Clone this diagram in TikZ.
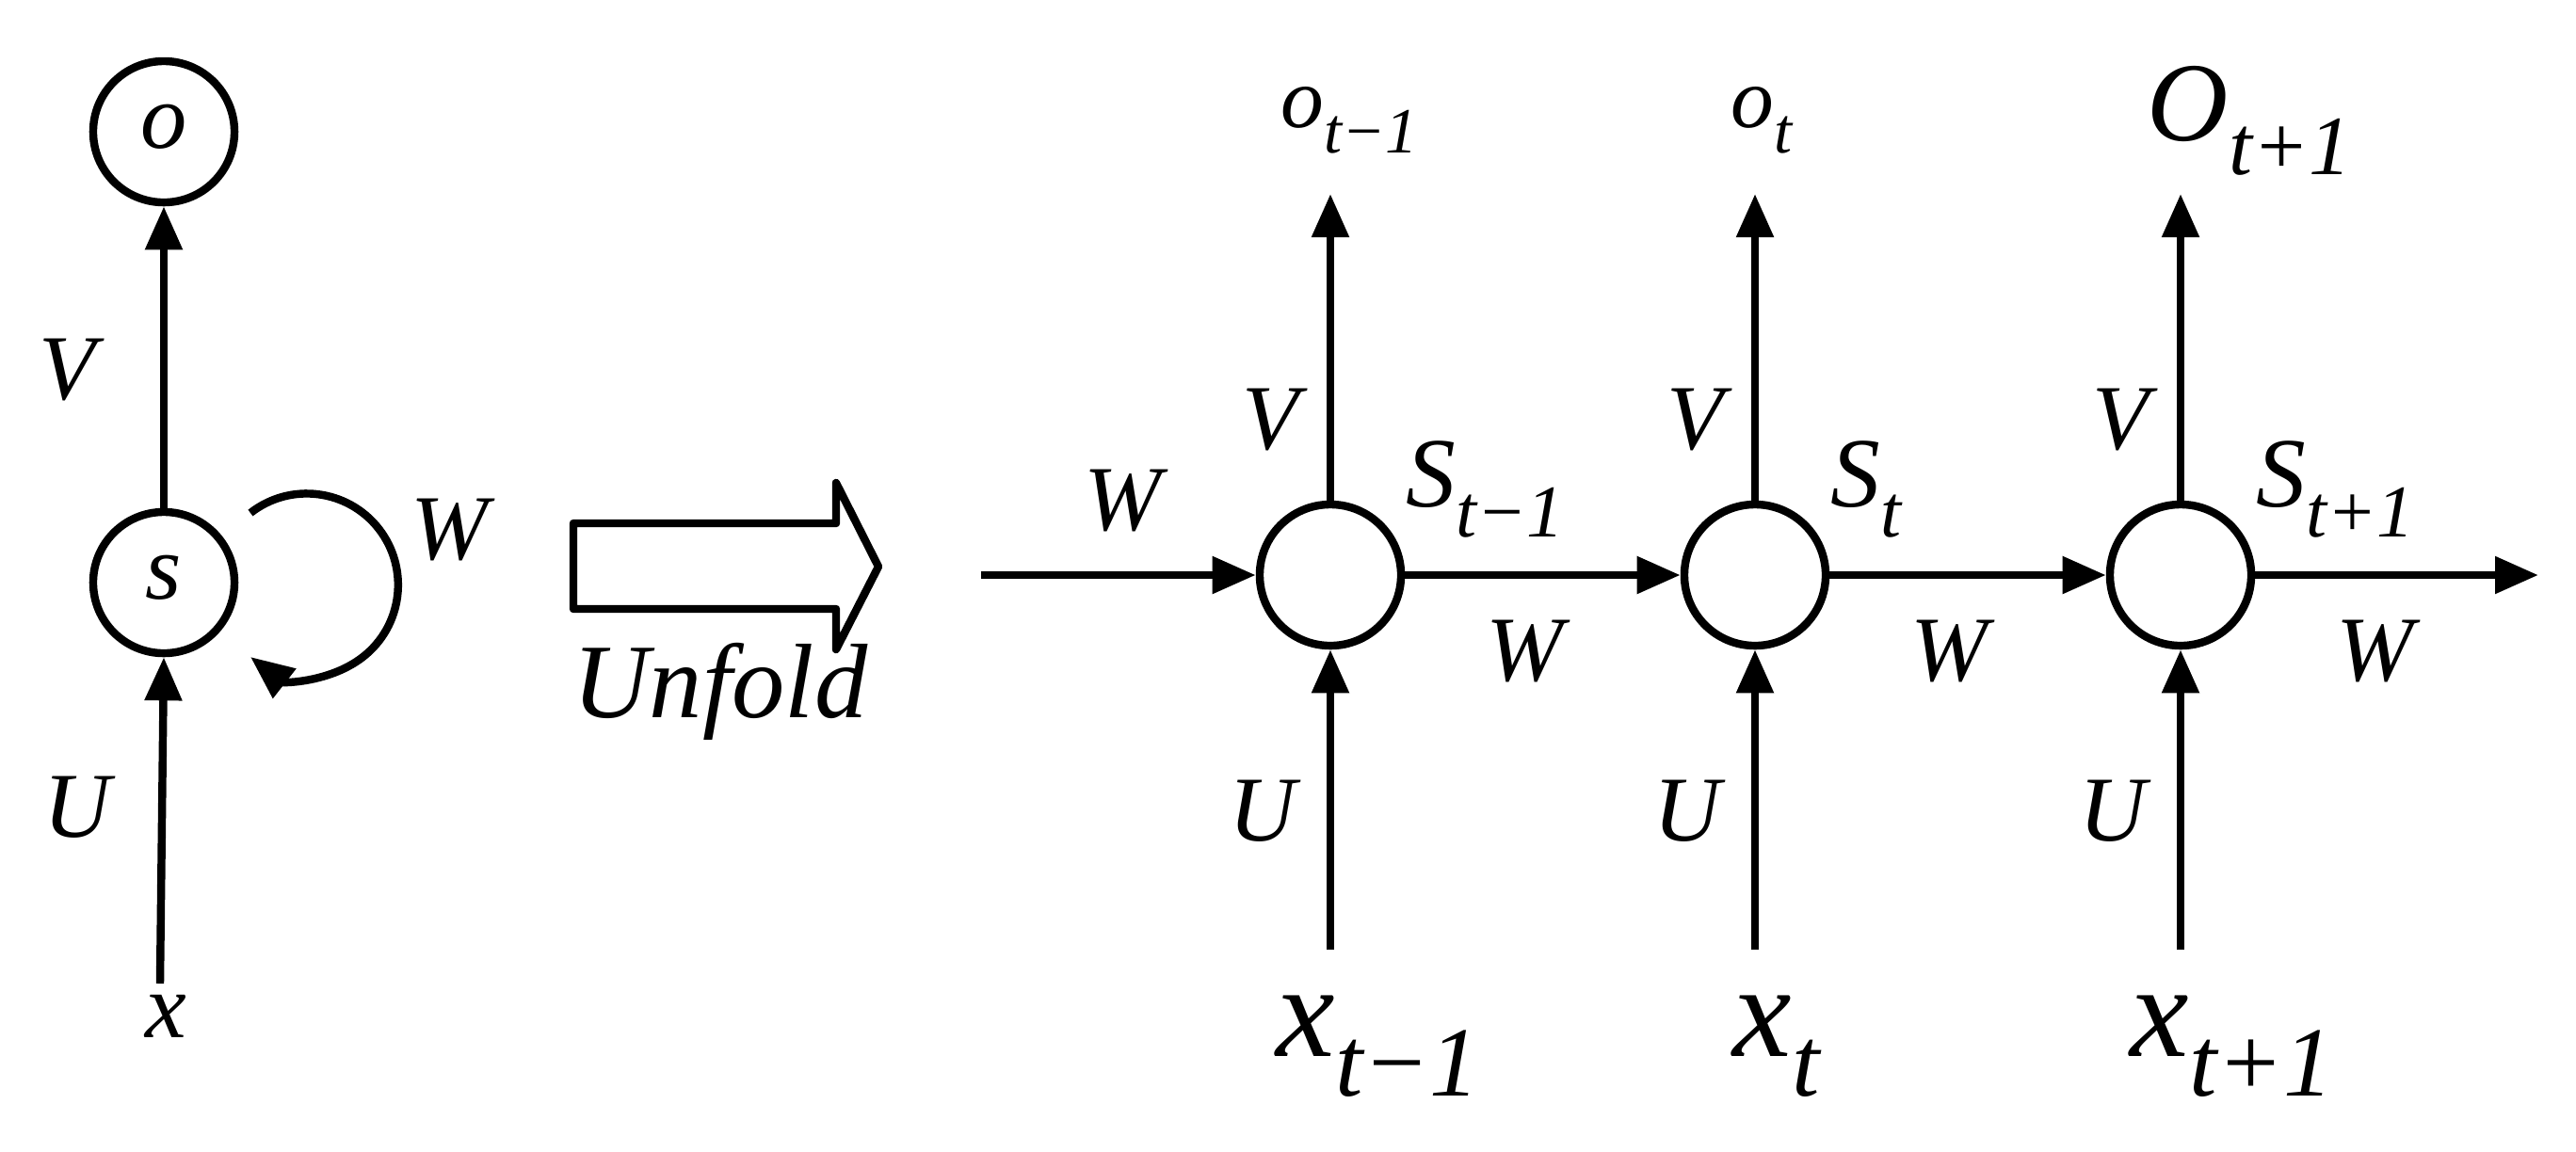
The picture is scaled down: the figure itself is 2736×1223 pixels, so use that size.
\documentclass[tikz,border=0pt]{standalone}
\usepackage{fontspec}
\setmainfont{Liberation Serif}[ItalicFont={Liberation Serif Italic}]
\usetikzlibrary{arrows.meta}
\newcommand{\sublab}[3]{{\fontsize{#3}{#3}\selectfont\itshape #1\raisebox{-0.3em}{\fontsize{0.75\dimexpr#3}{#3}\selectfont #2}}}
\begin{document}
\begin{tikzpicture}[x=0.01cm,y=-0.01cm,
  nd/.style={circle,draw,line width=2.4pt,minimum size=1.5cm,inner sep=0pt},
  con/.style={line width=2.4pt,-{Triangle[length=0.46cm,width=0.38cm]}},
  lb/.style={font=\fontsize{28}{28}\selectfont\itshape,inner sep=0pt}]
\useasboundingbox (0,0) rectangle (2736,1223);
% left folded
\node[nd] (o) at (174,140) {};
\node[lb] at (174,135) {o};
\node[nd] (s) at (174,619) {};
\node[lb] at (174,614) {s};
\coordinate (x0) at (170,1045);
\node[lb] (xl) at (176,1080) {x};
\draw[con] (s) -- (o);
\draw[con] (x0) -- (s.south);
\node[lb] at (72,393) {V};
\node[lb] at (82,858) {U};
\node[lb] at (478,563) {W};
\draw[con] (266,545) arc[start angle=128,end angle=-128,radius=0.97cm];
% unfold arrow
\draw[line width=2.4pt,line join=round] (609,556) -- (888,556) -- (888,513) -- (933,602) -- (888,690) -- (888,647) -- (609,647) -- cycle;
\node[font=\fontsize{32}{32}\selectfont\itshape] at (765,735) {Unfold};
% unfolded
\coordinate (win) at (1042,611);
\coordinate (wout) at (2696,611);
\node[nd] (s1) at (1413,611) {};
\node[nd] (s2) at (1864,611) {};
\node[nd] (s3) at (2316,611) {};
\draw[con] (win) -- (s1);
\draw[con] (s1) -- (s2);
\draw[con] (s2) -- (s3);
\draw[con] (s3) -- (wout);
\node[lb] at (1192,532) {W};
\foreach \n/\X/\sub in {s1/1413/t−1, s2/1864/t, s3/2316/t+1}{
  \coordinate (top\n) at (\X,206);
  \coordinate (bot\n) at (\X,1009);
  \draw[con] (\n) -- (top\n);
  \draw[con] (bot\n) -- (\n);
  \node[lb] at (\X-63,446) {V};
  \node[lb] at (\X-72,862) {U};
  \node[lb] at (\X+206,692) {W};
  \node[anchor=west,inner sep=0pt] at (\X+80,520) {\sublab{S}{\sub}{30}};
}
\node[anchor=west,inner sep=0pt] at (1360,128) {\sublab{o}{t−1}{26}};
\node[anchor=west,inner sep=0pt] at (1838,128) {\sublab{o}{t}{26}};
\node[anchor=west,inner sep=0pt] at (2280,128) {\sublab{O}{t+1}{34}};
\node[anchor=west,inner sep=0pt] at (1355,1112) {\sublab{x}{t−1}{40}};
\node[anchor=west,inner sep=0pt] at (1840,1112) {\sublab{x}{t}{40}};
\node[anchor=west,inner sep=0pt] at (2262,1112) {\sublab{x}{t+1}{40}};
\end{tikzpicture}
\end{document}
